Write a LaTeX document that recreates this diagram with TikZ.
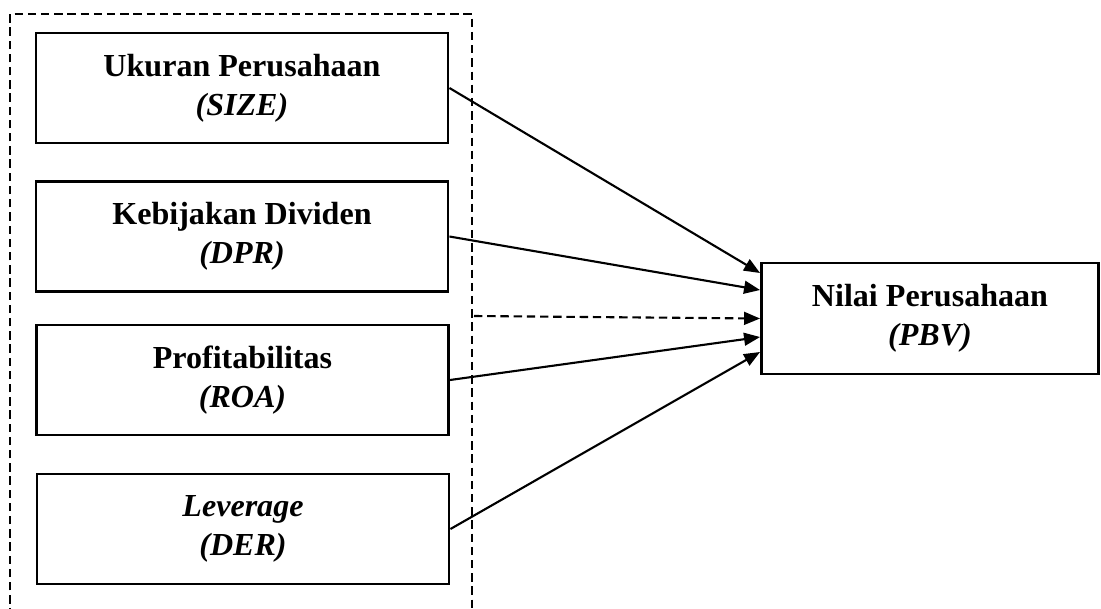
\documentclass[tikz,border=0pt]{standalone}
\usepackage{fontspec}
\setmainfont{Liberation Serif}
\usetikzlibrary{arrows.meta}
\tikzset{
	varbox/.style={draw,line width=2pt,minimum width=10.3cm,minimum height=2.75cm,inner sep=0pt,align=center,font=\fontsize{22.8}{27.5}\selectfont\bfseries},
	link/.style={line width=1.5pt,-{Triangle[length=0.4cm,width=0.32cm]}},
	frameline/.style={line width=1.5pt,dash pattern=on 0.21cm off 0.12cm},
}
\newcommand{\mkvar}[4]{\node[varbox] (#1) at (#2,#3) {#4};}% #1: name, #2: x, #3: y, #4: text

\begin{document}
\begin{tikzpicture}[x=0.025cm,y=-0.025cm]
	\useasboundingbox (0,0) rectangle (1101,608);
	
	% Dashed frame round the independent variables
	\draw[frameline] (10,630) -- (10,14) -- (472,14) -- (472,630);
	
	% Independent variables
	\mkvar{size}{242}{88}{Ukuran Perusahaan\\\textit{(SIZE)}}
	\mkvar{dpr}{242}{236.5}{Kebijakan Dividen\\\textit{(DPR)}}
	\mkvar{roa}{242.5}{380}{Profitabilitas\\\textit{(ROA)}}
	\mkvar{der}{243}{529}{\textit{Leverage}\\\textit{(DER)}}
	
	% Dependent variable
	\node[varbox,minimum width=8.425cm,minimum height=2.775cm] (pbv) at (930,318.5) {Nilai Perusahaan\\\textit{(PBV)}};
	
	% Arrows
	\foreach \src/\dy in {size/45.5,dpr/28.5,roa/-18.5,der/-33.5}
	\draw[link] (\src.east) -- ([yshift=\dy*0.025cm]pbv.west);
	
	% Simultaneous effect
	\coordinate (frm) at (474,316);
	\draw[link,frameline] (frm) -- (pbv.west);
\end{tikzpicture}
\end{document}
